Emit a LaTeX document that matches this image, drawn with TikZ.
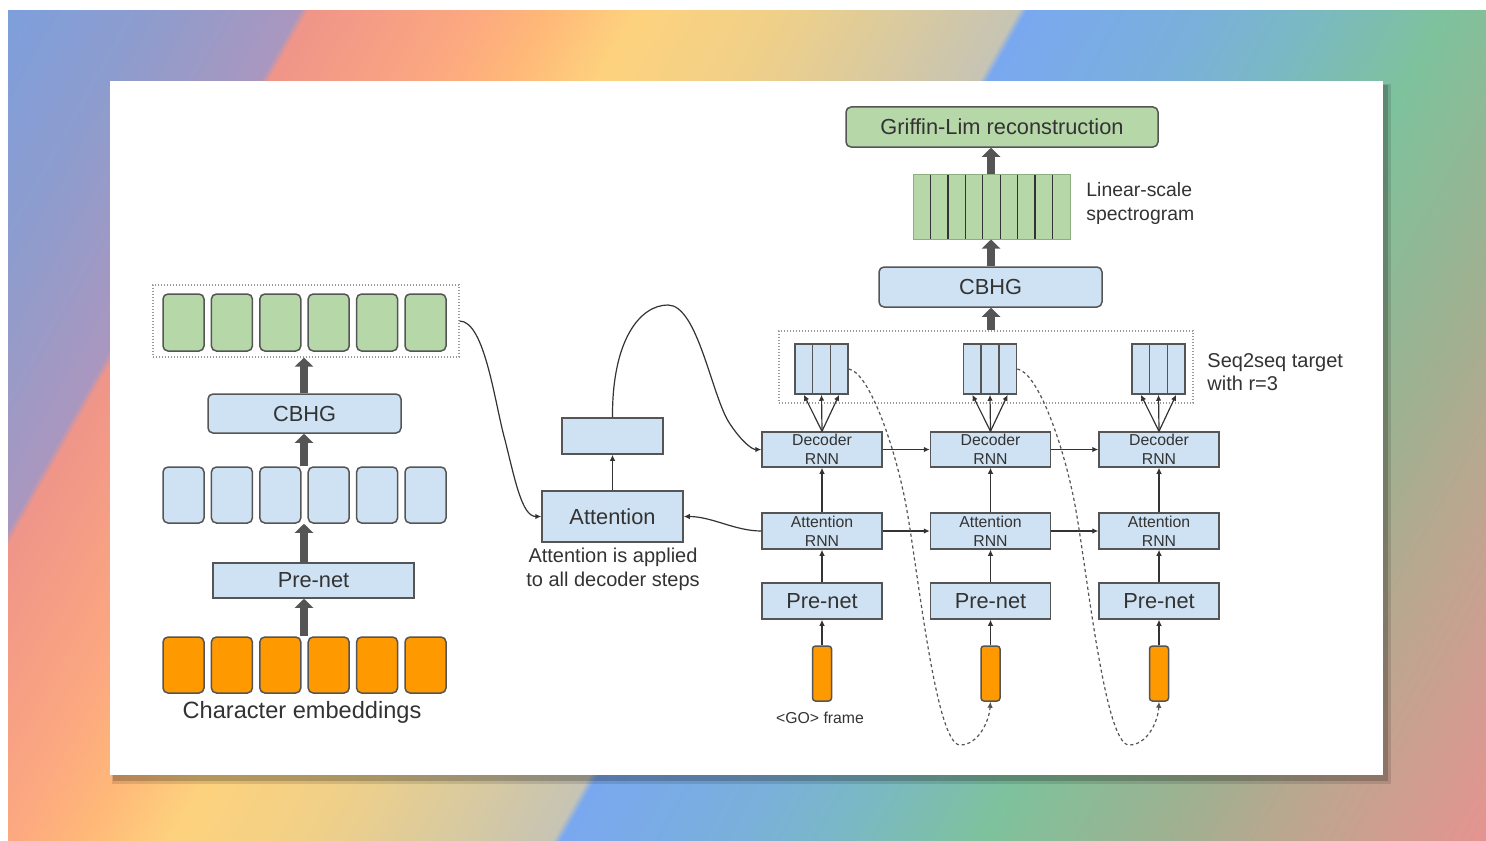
\documentclass[tikz,border=0pt]{standalone}
\usepackage{fontspec}
\setmainfont{Liberation Sans}
\usetikzlibrary{arrows.meta,fit}
\definecolor{blueF}{HTML}{CFE2F3}
\definecolor{greenF}{HTML}{B6D7A8}
\definecolor{orangeF}{HTML}{FF9900}
\definecolor{bordc}{HTML}{555555}
\definecolor{txtc}{HTML}{333333}
\definecolor{lnc}{HTML}{333333}
\definecolor{fatc}{HTML}{555555}
\definecolor{dotc}{HTML}{9A9A9A}
\definecolor{spbord}{HTML}{8FAE80}
\definecolor{bgA}{HTML}{7E9FDC}
\definecolor{bgB}{HTML}{8F9CCC}
\definecolor{bgC}{HTML}{AA97BF}
\definecolor{bgD}{HTML}{EF9589}
\definecolor{bgE}{HTML}{FCA880}
\definecolor{bgF}{HTML}{FFB878}
\definecolor{bgG}{HTML}{FDD27E}
\definecolor{bgH}{HTML}{F0D088}
\definecolor{bgI}{HTML}{E0CC98}
\definecolor{bgJ}{HTML}{C6C4B4}
\definecolor{bgK}{HTML}{7AA8F0}
\definecolor{bgL}{HTML}{7AB0DA}
\definecolor{bgM}{HTML}{7AB8C6}
\definecolor{bgN}{HTML}{7EC29C}
\definecolor{bgO}{HTML}{A0B090}
\definecolor{bgP}{HTML}{B8A890}
\definecolor{bgQ}{HTML}{E59490}
\pgfdeclarehorizontalshading{bgshade}{100bp}{color(0bp)=(bgA); color(28.815bp)=(bgA); color(32.115bp)=(bgB); color(35.14bp)=(bgC); color(35.315bp)=(bgD); color(38.94bp)=(bgE); color(40.59bp)=(bgF); color(42.515bp)=(bgG); color(45.54bp)=(bgH); color(47.615bp)=(bgI); color(50.84bp)=(bgJ); color(51.015bp)=(bgK); color(54.89bp)=(bgL); color(57.015bp)=(bgM); color(60.265bp)=(bgN); color(64.39bp)=(bgO); color(66.44bp)=(bgP); color(71.19bp)=(bgQ); color(100bp)=(bgQ)}
\newcommand\fLab{\fontsize{10.9}{13}\selectfont}
\newcommand\fEmb{\fontsize{11.8}{14}\selectfont}
\newcommand\fCap{\fontsize{10}{12}\selectfont}
\newcommand\fSpec{\fontsize{9.7}{12}\selectfont}
\newcommand\fSeq{\fontsize{10}{11.5}\selectfont}
\newcommand\fSmall{\fontsize{7.9}{9.5}\selectfont}
\begin{document}
\begin{tikzpicture}[x=0.5pt,y=-0.5pt,
  box/.style={draw=bordc, fill=blueF, line width=0.75pt, inner sep=0pt},
  rbox/.style={box, rounded corners=2.5pt},
  gcell/.style={rbox, fill=greenF},
  bcell/.style={rbox},
  ocell/.style={rbox, fill=orangeF},
  frame/.style={box, fill=orangeF, rounded corners=1.5pt},
  dotbox/.style={draw=dotc, line width=0.6pt, dash pattern=on 0.7pt off 0.8pt, inner sep=0pt},
  conn/.style={draw=lnc, line width=0.6pt, -{Latex[length=3pt,width=2.8pt]}},
  dconn/.style={draw=bordc, line width=0.6pt, dash pattern=on 1.6pt off 1.4pt, -{Latex[length=3pt,width=2.8pt]}},
  fat/.style={draw=fatc, line width=4pt, -{Triangle[width=9pt,length=4.5pt]}},
  lbl/.style={text=txtc, inner sep=0pt},
  blab/.style={lbl, font=\fLab},
  slab/.style={lbl, font=\fSmall, align=center}
]
\useasboundingbox (0,0) rectangle (1486,840);
\fill[white] (0,0) rectangle (1486,840);
\begin{scope}
  \clip (8,11) rectangle (1486,840);
  \shade[shading=bgshade, shading angle=-29.3] (-253,-575) rectangle (1747,1425);
\end{scope}
% panel
\fill[black, opacity=0.12] (112,84) rectangle (1391,784);
\fill[black, opacity=0.18] (113,85) rectangle (1388,781);
\fill[white] (110,81) rectangle (1383,775);

% ---------- encoder ----------
\node[dotbox, fit={(153,285) (459,357)}] (encdot) {};
\foreach \i in {1,...,6} {
  \pgfmathsetmacro\cx{183.5+48.4*(\i-1)}
  \node[gcell, fit={({\cx-20.5},294) ({\cx+20.5},351)}] (g\i) {};
  \node[bcell, fit={({\cx-20.5},467) ({\cx+20.5},523)}] (b\i) {};
  \node[ocell, fit={({\cx-20.5},637) ({\cx+20.5},693)}] (o\i) {};
}
\node[rbox, fit={(208,394) (401,433)}] (Lcbhg) {};
\node[blab] (Lcbhgt) at (Lcbhg.center) {CBHG};
\node[box, fit={(213,563) (414,598)}] (Lpre) {};
\node[blab] (Lpret) at (Lpre.center) {Pre-net};
\node[lbl, font=\fEmb] (emb) at (302,712) {Character embeddings};
\coordinate (axL) at (304,0);
\draw[fat] (axL |- o3.north) -- (axL |- Lpre.south);
\draw[fat] (axL |- Lpre.north) -- (axL |- b3.south);
\draw[fat] (axL |- b3.north) -- (axL |- Lcbhg.south);
\draw[fat] (axL |- Lcbhg.north) -- (axL |- encdot.south);

% ---------- attention ----------
\node[box, fit={(542,491) (683,542)}] (att) {};
\node[blab] (attt) at (att.center) {Attention};
\node[box, fit={(562,418) (663,454)}] (ctx) {};
\node[lbl, font=\fCap, align=center] (attcap) at (613,569) {Attention is applied\\to all decoder steps};
\draw[conn] (att.north) -- (ctx.south);

% ---------- decoder ----------
\node[dotbox, fit={(779,331) (1193,403)}] (decdot) {};
\foreach \k/\cx in {1/822,2/990.5,3/1159} {
  \node[box, fit={({\cx-60},432) ({\cx+60},467)}] (D\k) {};
  \node[slab] (D\k t) at (D\k.center) {Decoder\\RNN};
  \node[box, fit={({\cx-60},513) ({\cx+60},549)}] (A\k) {};
  \node[slab] (A\k t) at (A\k.center) {Attention\\RNN};
  \node[box, fit={({\cx-60},583) ({\cx+60},619)}] (P\k) {};
  \node[blab] (P\k t) at (P\k.center) {Pre-net};
  \node[frame, fit={({\cx-9.5},646) ({\cx+9.5},701)}] (F\k) {};
  \foreach \j in {1,2,3} {
    \pgfmathsetmacro\xa{\cx-27+17.667*(\j-1)}
    \node[box, fit={(\xa,344) ({\xa+17.667},394)}] (T\k\j) {};
  }
}
\foreach \k in {1,2,3} {
  \foreach \j in {1,2,3} { \draw[conn] (D\k.north) -- (T\k\j.south); }
  \draw[conn] (A\k.north) -- (D\k.south);
  \draw[conn] (P\k.north) -- (A\k.south);
  \draw[conn] (F\k.north) -- (P\k.south);
}
\draw[conn] (D1.east) -- (D2.west);
\draw[conn] (D2.east) -- (D3.west);
\draw[conn] (A1.east) -- (A2.west);
\draw[conn] (A2.east) -- (A3.west);
\node[lbl, font=\fSmall] (go) at (820,718) {<GO> frame};
\node[lbl, font=\fSeq, align=left, anchor=west] (seqlbl) at (1207,372) {Seq2seq target\\with r=3};

% ---------- post-net ----------
\node[rbox, fit={(879,267) (1102,307)}] (Rcbhg) {};
\node[blab] (Rcbhgt) at (Rcbhg.center) {CBHG};
\node[draw=spbord, line width=0.5pt, fill=greenF, inner sep=0pt, fit={(913,174) (1070,239)}] (spec) {};
\foreach \j in {1,...,8} {
  \draw[draw=txtc, line width=0.7pt] ({913+17.444*\j},174.5) -- ({913+17.444*\j},238.5);
}
\node[rbox, fill=greenF, fit={(846,107) (1158,147)}] (griffin) {};
\node[blab] (griffint) at (griffin.center) {Griffin-Lim reconstruction};
\node[lbl, font=\fSpec, align=left, anchor=west] (speclbl) at (1086,203) {Linear-scale\\spectrogram};
\coordinate (axR) at (991,0);
\draw[fat] (axR |- decdot.north) -- (axR |- Rcbhg.south);
\draw[fat] (axR |- Rcbhg.north) -- (axR |- spec.south);
\draw[fat] (axR |- spec.north) -- (axR |- griffin.south);

% ---------- curves ----------
\draw[conn] (encdot.east) .. controls (485,321) and (495,405) .. (505,440)
            .. controls (515,480) and (522,516.5) .. (att.west);
\draw[conn] (ctx.north) .. controls (612,340) and (640,305) .. (668,305)
            .. controls (698,305) and (712,398) .. (730,424)
            .. controls (742,442) and (752,449.5) .. (D1.west);
\draw[conn] (A1.west) .. controls (735,531) and (712,516.5) .. (att.east);
\draw[dconn] (T13.east) .. controls (868,372) and (893,440) .. (905,500)
             .. controls (917,560) and (935,745) .. (960,745)
             .. controls (978,745) and (989,722) .. (F2.south);
\draw[dconn] (T23.east) .. controls (1037,372) and (1062,440) .. (1074,500)
             .. controls (1086,560) and (1104,745) .. (1129,745)
             .. controls (1147,745) and (1158,722) .. (F3.south);
\end{tikzpicture}
\end{document}
